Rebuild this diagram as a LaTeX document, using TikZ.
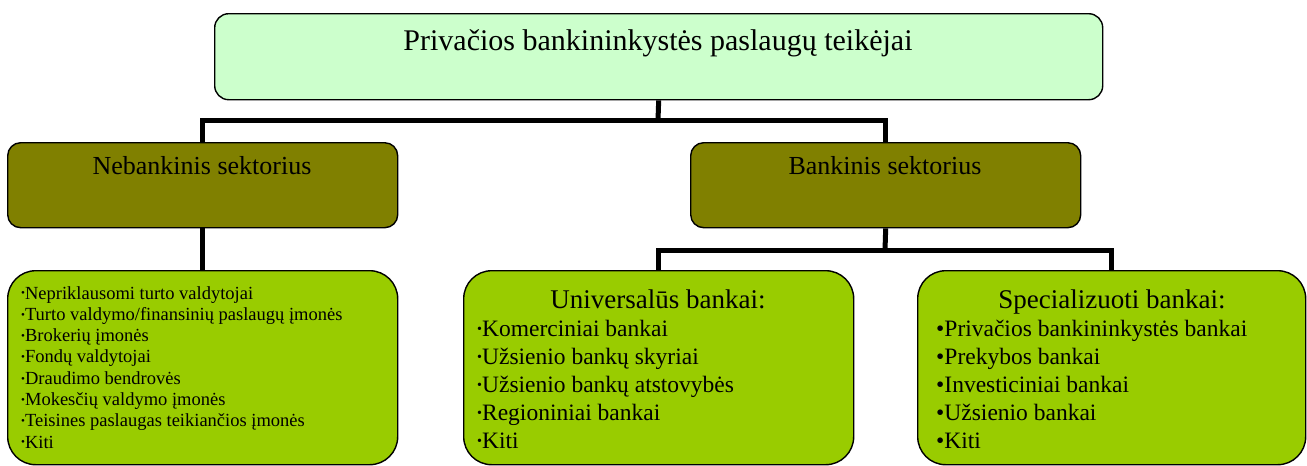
\documentclass[tikz,border=0pt]{standalone}
\usepackage{fontspec}
\setmainfont{Liberation Serif}
\definecolor{topfill}{HTML}{CCFFCC}
\definecolor{secfill}{HTML}{808000}
\definecolor{botfill}{HTML}{99CC00}
\newcommand\smbul{\raisebox{0.25ex}{\scalebox{0.6}{•}}}
\begin{document}
\begin{tikzpicture}[x=1pt,y=-1pt,
  box/.style={draw=black, line width=1.4pt, rounded corners=#1, inner sep=0pt, anchor=north west},
  conn/.style={draw=black, line width=5pt},
  txt/.style={inner sep=0pt, text=black}]
\useasboundingbox (0,0) rectangle (1307,466);
% boxes
\node[box=14pt, fill=topfill, minimum width=888pt, minimum height=86pt] (top) at (214,13) {};
\node[box=13pt, fill=secfill, minimum width=390pt, minimum height=85pt] (neb) at (7,142) {};
\node[box=13pt, fill=secfill, minimum width=390pt, minimum height=85pt] (bank) at (690,142) {};
\node[box=28pt, fill=botfill, minimum width=390pt, minimum height=194pt] (nonb) at (7,270) {};
\node[box=28pt, fill=botfill, minimum width=390pt, minimum height=194pt] (univ) at (463,270) {};
\node[box=28pt, fill=botfill, minimum width=388pt, minimum height=194pt] (spec) at (917,270) {};
% connectors
\coordinate (j1) at (658,120);
\coordinate (j2) at (885,250);
\draw[conn] (top.south) -- (j1);
\draw[conn] (neb.north) |- (j1) -| (bank.north);
\draw[conn] (neb.south) -- (nonb.north);
\draw[conn] (bank.south) -- (j2);
\draw[conn] (univ.north) |- (j2) -| (spec.north);
% texts
\node[txt, anchor=base, font=\fontsize{30}{36}\selectfont] (toptxt) at (658,50) {Privačios bankininkystės paslaugų teikėjai};
\node[txt, anchor=base, font=\fontsize{26}{31}\selectfont] (nebtxt) at (202,174) {Nebankinis sektorius};
\node[txt, anchor=base, font=\fontsize{26}{31}\selectfont] (banktxt) at (885,174) {Bankinis sektorius};
\node[txt, anchor=base, font=\fontsize{27}{32}\selectfont] (univh) at (658,308) {Universalūs bankai:};
\node[txt, anchor=base, font=\fontsize{27}{32}\selectfont] (spech) at (1112,308) {Specializuoti bankai:};
\foreach \t [count=\i] in {Nepriklausomi turto valdytojai, Turto valdymo/finansinių paslaugų įmonės, Brokerių įmonės, Fondų valdytojai, Draudimo bendrovės, Mokesčių valdymo įmonės, Teisines paslaugas teikiančios įmonės, Kiti}
  \node[txt, anchor=base west, font=\fontsize{18.5}{22}\selectfont] (nb\i) at (21,{299+21.3*(\i-1)}) {\smbul\t};
\foreach \t [count=\i] in {Komerciniai bankai, Užsienio bankų skyriai, Užsienio bankų atstovybės, Regioniniai bankai, Kiti}
  \node[txt, anchor=base west, font=\fontsize{23.5}{28}\selectfont] (ub\i) at (477,{336+28*(\i-1)}) {\smbul\t};
\foreach \t [count=\i] in {Privačios bankininkystės bankai, Prekybos bankai, Investiciniai bankai, Užsienio bankai, Kiti}
  \node[txt, anchor=base west, font=\fontsize{23.5}{28}\selectfont] (sb\i) at (936,{336+28*(\i-1)}) {•\t};
\end{tikzpicture}
\end{document}
